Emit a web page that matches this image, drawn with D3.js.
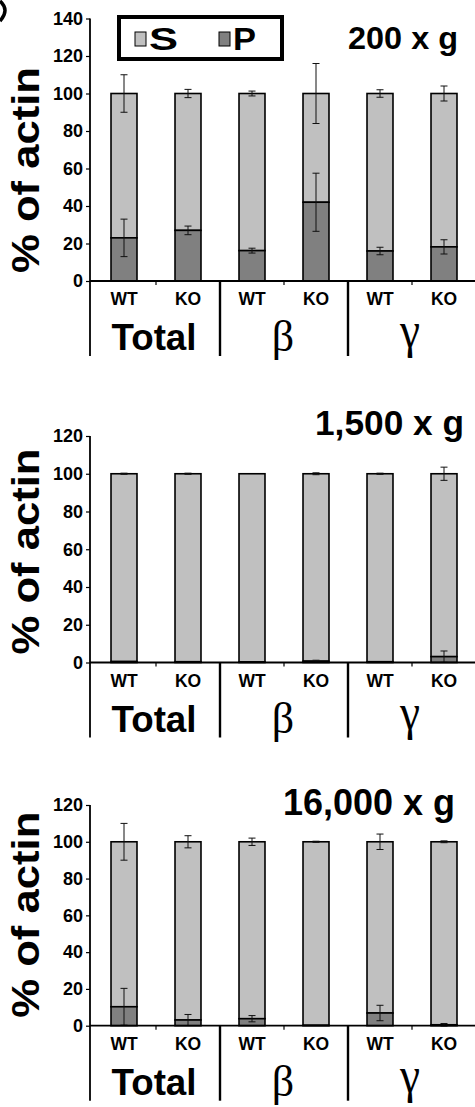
<!DOCTYPE html>
<html>
<head>
<meta charset="utf-8">
<script src="https://cdn.jsdelivr.net/npm/d3@7"></script>
<style>
  body { margin: 0; background: #fff; }
  svg { display: block; }
  text { font-family: Arial, "Liberation Sans", Helvetica, sans-serif; fill: #000; }
</style>
</head>
<body>
<svg id="chart" width="475" height="1107"></svg>
<script>
// Actin fractionation: supernatant (S) vs pellet (P) share, per isoform and genotype
const groups = ["Total", "β", "γ"];
const genotypes = ["WT", "KO"];
const forces = ["200 x g", "1,500 x g", "16,000 x g"];
const yMaxes = [140, 120, 120];
const yTicks200 = [0, 20, 40, 60, 80, 100, 120, 140];
const yTicks = [0, 20, 40, 60, 80, 100, 120];

// order: Total WT, Total KO, β WT, β KO, γ WT, γ KO
const pellet200 = [23, 27, 16.2, 42, 16, 18.2];
const pelletErr200 = [10, 2.3, 1.3, 15.5, 2, 3.8];
const sup200 = [77, 73, 83.8, 58, 84, 81.8];
const supErr200 = [10, 2.2, 1.3, 16, 2, 4];

const pellet1500 = [0.5, 0.4, 0.3, 0.7, 0.4, 3.1];
const pelletErr1500 = [0, 0, 0, 0.5, 0, 3];
const sup1500 = [99.5, 99.6, 99.7, 99.3, 99.6, 96.9];
const supErr1500 = [0.3, 0.3, 0, 0.5, 0.3, 3.5];

const pellet16000 = [10.3, 3.1, 3.8, 0.2, 6.9, 0.5];
const pelletErr16000 = [10, 3, 1.7, 0, 4.2, 0.7];
const sup16000 = [89.7, 96.9, 96.2, 99.8, 93.1, 99.5];
const supErr16000 = [10, 3.3, 2, 0.3, 4.2, 0.5];

const legendKeys = ["S", "P"];
const colors = { S: "#c0c0c0", P: "#808080" };

const bars = [];
groups.forEach(g => genotypes.forEach(t => bars.push({ group: g, geno: t, key: g + "-" + t })));

const panels = [
  { title: forces[0], yMax: yMaxes[0], ticks: yTicks200, pellet: pellet200, pErr: pelletErr200, sup: sup200, sErr: supErr200,
    top: 18.5, base: 281, titleX: 348, titleY: 49, titleLen: 110, titleSize: 31, legend: true },
  { title: forces[1], yMax: yMaxes[1], ticks: yTicks, pellet: pellet1500, pErr: pelletErr1500, sup: sup1500, sErr: supErr1500,
    top: 436, base: 662.5, titleX: 315, titleY: 435, titleLen: 149, titleSize: 35, legend: false },
  { title: forces[2], yMax: yMaxes[2], ticks: yTicks, pellet: pellet16000, pErr: pelletErr16000, sup: sup16000, sErr: supErr16000,
    top: 805, base: 1025.7, titleX: 283, titleY: 815, titleLen: 172, titleSize: 37, legend: false }
];

const svg = d3.select("#chart");

// fragment of the neighbouring panel's letter at the page corner
svg.append("path").attr("d", "M0,1 Q10,10 0,21")
  .attr("fill", "none").attr("stroke", "#000").attr("stroke-width", 3.5);

const axisX = 90;
const x = d3.scaleBand().domain(bars.map(b => b.key)).range([92, 476])
  .paddingInner(0.594).paddingOuter(0.297);

function errorBar(g, cx, y, v, e) {
  if (!e) return;
  const y1 = y(v + e), y2 = y(v - e), cap = 3.5;
  g.append("line").attr("x1", cx).attr("x2", cx).attr("y1", y1).attr("y2", y2)
    .attr("stroke", "#111").attr("stroke-width", 1);
  [y1, y2].forEach(yy => g.append("line").attr("x1", cx - cap).attr("x2", cx + cap)
    .attr("y1", yy).attr("y2", yy).attr("stroke", "#111").attr("stroke-width", 1));
}

panels.forEach(p => {
  const g = svg.append("g");
  const y = d3.scaleLinear().domain([0, p.yMax]).range([p.base, p.top]);
  const frameBottom = p.base + 75;

  // y axis
  const ax = g.append("g").attr("transform", `translate(${axisX},0)`)
    .call(d3.axisLeft(y).tickValues(p.ticks).tickSize(4).tickSizeOuter(0).tickPadding(3));
  ax.select(".domain").remove();
  ax.selectAll(".tick line").attr("stroke", "#000").attr("stroke-width", 1.2);
  ax.selectAll(".tick text").style("font-size", "18px").style("font-weight", "bold")
    .style("font-family", "Arial, 'Liberation Sans', sans-serif").attr("fill", "#000");
  g.append("line").attr("x1", axisX).attr("x2", axisX).attr("y1", y(p.yMax)).attr("y2", frameBottom)
    .attr("stroke", "#000").attr("stroke-width", 1.8);

  // y label
  g.append("text")
    .attr("transform", `translate(39,${p.base - 111}) rotate(-90)`)
    .attr("text-anchor", "middle")
    .attr("textLength", 206).attr("lengthAdjust", "spacingAndGlyphs")
    .style("font-size", "39px").style("font-weight", "bold")
    .text("% of actin");

  // stacked bars
  bars.forEach((b, i) => {
    const bx = x(b.key), bw = x.bandwidth();
    const pv = p.pellet[i], sv = p.sup[i];
    g.append("rect").attr("x", bx).attr("width", bw)
      .attr("y", y(pv + sv)).attr("height", y(pv) - y(pv + sv))
      .attr("fill", colors.S).attr("stroke", "#000").attr("stroke-width", 1.6);
    g.append("rect").attr("x", bx).attr("width", bw)
      .attr("y", y(pv)).attr("height", y(0) - y(pv))
      .attr("fill", colors.P).attr("stroke", "#000").attr("stroke-width", 1.6);
  });
  bars.forEach((b, i) => {
    const cx = x(b.key) + x.bandwidth() / 2;
    errorBar(g, cx, y, p.pellet[i] + p.sup[i], p.sErr[i]);
    errorBar(g, cx, y, p.pellet[i], p.pErr[i]);
  });

  // category frame below the axis
  g.append("line").attr("x1", axisX).attr("x2", 475).attr("y1", y(0)).attr("y2", y(0))
    .attr("stroke", "#000").attr("stroke-width", 1.8);
  const step = x.step();
  groups.forEach((grp, gi) => {
    const gx0 = 92 + gi * 2 * step;
    if (gi > 0) {
      g.append("line").attr("x1", gx0).attr("x2", gx0).attr("y1", y(0)).attr("y2", frameBottom)
        .attr("stroke", "#000").attr("stroke-width", 2.4);
    }
    g.append("line").attr("x1", gx0 + step).attr("x2", gx0 + step).attr("y1", y(0)).attr("y2", y(0) + 4)
      .attr("stroke", "#000").attr("stroke-width", 1.2);
    const cx = gx0 + step;
    if (grp === "Total") {
      g.append("text").attr("x", cx - 2).attr("y", y(0) + 69).attr("text-anchor", "middle")
        .attr("textLength", 85).attr("lengthAdjust", "spacingAndGlyphs")
        .style("font-size", "36px").style("font-weight", "bold").text(grp);
    } else if (grp === "β") {
      g.append("text").attr("x", cx - 1).attr("y", y(0) + 70).attr("text-anchor", "middle")
        .style("font-family", "'Liberation Serif', 'Times New Roman', serif")
        .style("font-size", "44px").text(grp);
    } else {
      g.append("text").attr("x", cx - 2).attr("y", y(0) + 66).attr("text-anchor", "middle")
        .attr("textLength", 20).attr("lengthAdjust", "spacingAndGlyphs")
        .style("font-family", "'Liberation Serif', 'Times New Roman', serif")
        .style("font-size", "50px").text(grp);
    }
  });
  bars.forEach(b => {
    g.append("text").attr("x", x(b.key) + x.bandwidth() / 2).attr("y", y(0) + 24)
      .attr("text-anchor", "middle").style("font-size", "17.5px").style("font-weight", "bold").text(b.geno);
  });

  // title
  g.append("text").attr("x", p.titleX).attr("y", p.titleY)
    .attr("textLength", p.titleLen).attr("lengthAdjust", "spacingAndGlyphs")
    .style("font-size", p.titleSize + "px").style("font-weight", "bold").text(p.title);

  // legend
  if (p.legend) {
    const lg = g.append("g");
    lg.append("rect").attr("x", 119).attr("y", 17).attr("width", 163).attr("height", 42)
      .attr("fill", "#fff").attr("stroke", "#000").attr("stroke-width", 4);
    legendKeys.forEach((k, i) => {
      const lx = 135 + i * 84;
      lg.append("rect").attr("x", lx).attr("y", 32).attr("width", 11).attr("height", 14)
        .attr("fill", colors[k]).attr("stroke", "#000").attr("stroke-width", 1);
      lg.append("text").attr("x", lx + 14).attr("y", 50)
        .attr("textLength", k === "S" ? 29 : 23).attr("lengthAdjust", "spacingAndGlyphs")
        .style("font-size", "32px").style("font-weight", "bold").text(k);
    });
  }
});
</script>
</body>
</html>
